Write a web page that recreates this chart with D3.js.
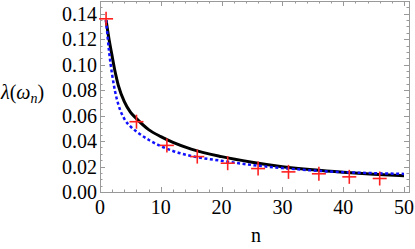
<!DOCTYPE html>
<html>
<head>
<meta charset="utf-8">
<script src="https://cdn.jsdelivr.net/npm/d3@7"></script>
<style>
  body { margin: 0; background: #fff; }
  svg { display: block; }
</style>
</head>
<body>
<svg width="415" height="249"></svg>
<script>
// red + markers (sampled points)
var markerN = [1, 6, 11, 16, 21, 26, 31, 36, 41, 46];
var markerVals = [0.136, 0.0552, 0.0366, 0.0278, 0.0226, 0.0184, 0.0158, 0.0143, 0.0119, 0.0106];

// black solid curve, read at these n
var curveN = [1, 1.5, 2, 2.5, 3, 4, 5, 6, 8, 10, 12, 15, 20, 25, 30, 35, 40, 45, 50];
var blackVals = [0.135, 0.1195, 0.1065, 0.094, 0.084, 0.071, 0.0628, 0.0576, 0.049, 0.0435, 0.039, 0.0337, 0.0278, 0.0234, 0.0199, 0.0174, 0.0155, 0.0140, 0.0128];
// blue dotted curve
var blueVals = [0.135, 0.110, 0.092, 0.0785, 0.069, 0.0575, 0.0515, 0.0475, 0.041, 0.036, 0.0322, 0.0283, 0.0245, 0.0212, 0.0188, 0.0169, 0.0156, 0.0148, 0.0142];

var xTicks = [0, 10, 20, 30, 40, 50];
var yTicks = [0, 0.02, 0.04, 0.06, 0.08, 0.10, 0.12, 0.14];

var serif = "'Liberation Serif', 'Times New Roman', 'DejaVu Serif', serif";

var svg = d3.select("svg");
var x = d3.scaleLinear().domain([0, 50.82]).range([100, 409]);
var y = d3.scaleLinear().domain([0, 0.15]).range([192, 1]);

var frameColor = "#999";

// frame
svg.append("rect")
  .attr("x", x.range()[0] + 0.5).attr("y", y.range()[1] + 0.5)
  .attr("width", x.range()[1] - x.range()[0])
  .attr("height", y.range()[0] - y.range()[1])
  .attr("fill", "none").attr("stroke", frameColor).attr("stroke-width", 1);

var xMinor = d3.range(2, 51, 2).filter(function (v) { return v % 10 !== 0; });
var yMinor = d3.range(1, 30).map(function (i) { return i * 0.005; }).filter(function (v, i) { return (i + 1) % 4 !== 0; });

// ticks drawn inward on all four sides
function tickX(vals, len) {
  var g = svg.append("g").attr("stroke", frameColor).attr("stroke-width", 1);
  vals.forEach(function (v) {
    var px = Math.round(x(v)) + 0.5;
    g.append("line").attr("x1", px).attr("x2", px).attr("y1", y(0)).attr("y2", y(0) - len);
    g.append("line").attr("x1", px).attr("x2", px).attr("y1", y.range()[1]).attr("y2", y.range()[1] + len);
  });
}
function tickY(vals, len) {
  var g = svg.append("g").attr("stroke", frameColor).attr("stroke-width", 1);
  vals.forEach(function (v) {
    var py = Math.round(y(v)) + 0.5;
    g.append("line").attr("y1", py).attr("y2", py).attr("x1", x.range()[0]).attr("x2", x.range()[0] + len);
    g.append("line").attr("y1", py).attr("y2", py).attr("x1", x.range()[1]).attr("x2", x.range()[1] - len);
  });
}
tickX(xTicks, 5);
tickX(xMinor, 2.5);
tickY(yTicks, 5);
tickY(yMinor, 2.5);

// tick labels
svg.append("g").selectAll("text").data(xTicks).enter().append("text")
  .attr("x", function (d) { return x(d); })
  .attr("y", 214)
  .attr("text-anchor", "middle")
  .attr("font-family", serif)
  .attr("font-size", 20)
  .text(function (d) { return d; });

svg.append("g").selectAll("text").data(yTicks).enter().append("text")
  .attr("x", 97)
  .attr("y", function (d) { return y(d) + 7; })
  .attr("text-anchor", "end")
  .attr("font-family", serif)
  .attr("font-size", 20)
  .text(function (d) { return d.toFixed(2); });

// axis labels
svg.append("text").attr("x", 256).attr("y", 242)
  .attr("text-anchor", "middle").attr("font-family", serif).attr("font-size", 20).text("n");

var yl = svg.append("text").attr("x", 1).attr("y", 99).attr("font-family", serif).attr("font-size", 20);
yl.append("tspan").attr("font-style", "italic").text("λ");
yl.append("tspan").text("(");
yl.append("tspan").attr("font-style", "italic").text("ω");
yl.append("tspan").attr("font-style", "italic").attr("font-size", 14).attr("dy", 4).text("n");
yl.append("tspan").attr("dy", -4).text(")");

// curves
var line = d3.line()
  .x(function (d) { return x(d[0]); })
  .y(function (d) { return y(d[1]); })
  .curve(d3.curveMonotoneX);

svg.append("path")
  .attr("d", line(d3.zip(curveN, blackVals)))
  .attr("fill", "none").attr("stroke", "#000").attr("stroke-width", 3);

svg.append("path")
  .attr("d", line(d3.zip(curveN, blueVals)))
  .attr("fill", "none").attr("stroke", "#1010ff").attr("stroke-width", 2.5)
  .attr("stroke-dasharray", "3,2.5");

// markers
var mk = svg.append("g").attr("stroke", "#ff2020").attr("stroke-width", 1.6);
d3.zip(markerN, markerVals).forEach(function (d) {
  var cx = x(d[0]), cy = y(d[1]);
  mk.append("line").attr("x1", cx - 7).attr("x2", cx + 7).attr("y1", cy).attr("y2", cy);
  mk.append("line").attr("x1", cx).attr("x2", cx).attr("y1", cy - 7).attr("y2", cy + 7);
});
</script>
</body>
</html>
